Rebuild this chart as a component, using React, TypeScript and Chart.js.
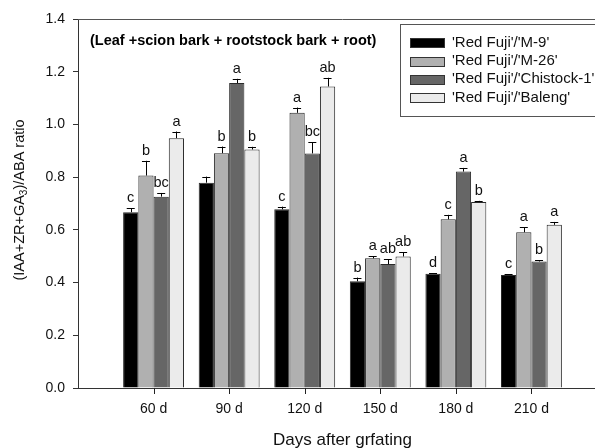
import React, { useEffect, useRef } from "react";
import { Chart, registerables } from "chart.js";

Chart.register(...registerables);

const categories = ["60 d", "90 d", "120 d", "150 d", "180 d", "210 d"];
const seriesNames = ["'Red Fuji'/'M-9'", "'Red Fuji'/'M-26'", "'Red Fuji'/'Chistock-1'", "'Red Fuji'/'Baleng'"];
const m9 = [0.667, 0.779, 0.678, 0.405, 0.433, 0.429];
const m26 = [0.806, 0.891, 1.044, 0.492, 0.640, 0.591];
const chistock = [0.726, 1.157, 0.890, 0.470, 0.821, 0.480];
const baleng = [0.948, 0.905, 1.144, 0.499, 0.706, 0.619];
const m9Err = [0.015, 0.023, 0.010, 0.014, 0.003, 0.002];
const m26Err = [0.056, 0.025, 0.020, 0.008, 0.017, 0.019];
const chistockErr = [0.014, 0.016, 0.043, 0.019, 0.014, 0.004];
const balengErr = [0.025, 0.010, 0.033, 0.017, 0.004, 0.011];
const m9Letters = ["c", "", "c", "b", "d", "c"];
const m26Letters = ["b", "b", "a", "a", "c", "a"];
const chistockLetters = ["bc", "a", "bc", "ab", "a", "b"];
const balengLetters = ["a", "b", "ab", "ab", "b", "a"];
const yTicks = [0, 0.2, 0.4, 0.6, 0.8, 1.0, 1.2, 1.4];

const fills = ["#000000", "#b0b0b0", "#666666", "#ebebeb"];
const FONT = "'Liberation Sans', Arial, sans-serif";

const values = [m9, m26, chistock, baleng];
const errors = [m9Err, m26Err, chistockErr, balengErr];
const letters = [m9Letters, m26Letters, chistockLetters, balengLetters];

const pad = (arr: any[]) => [null, ...arr, null];

export default function App() {
  const ref = useRef<HTMLCanvasElement | null>(null);

  useEffect(() => {
    if (!ref.current) return;
    const overlay = {
      id: "overlay",
      afterDraw(chart: any) {
        const ctx = chart.ctx;
        const area = chart.chartArea;
        const y = chart.scales.y;
        const xs = chart.scales.x;
        ctx.save();
        // top frame
        ctx.strokeStyle = "#555";
        ctx.lineWidth = 1;
        ctx.beginPath();
        ctx.moveTo(area.left, area.top + 0.5);
        ctx.lineTo(area.right, area.top + 0.5);
        ctx.stroke();
        // x tick marks at category centres
        ctx.fillStyle = "#222";
        categories.forEach((_, i) => {
          const px = Math.round(xs.getPixelForValue(i + 1));
          ctx.fillRect(px, area.bottom, 1, 6);
        });
        // error bars & letters
        values.forEach((vals, di) => {
          const meta = chart.getDatasetMeta(di);
          vals.forEach((v, j) => {
            const bar: any = meta.data[j + 1];
            if (!bar) return;
            const x = bar.x;
            const yb = y.getPixelForValue(v);
            const yt = y.getPixelForValue(v + errors[di][j]);
            ctx.strokeStyle = "#000";
            ctx.lineWidth = 1;
            ctx.beginPath();
            ctx.moveTo(Math.round(x) + 0.5, yb);
            ctx.lineTo(Math.round(x) + 0.5, yt);
            ctx.moveTo(x - 4, Math.round(yt) + 0.5);
            ctx.lineTo(x + 4, Math.round(yt) + 0.5);
            ctx.stroke();
            const t = letters[di][j];
            if (t) {
              ctx.fillStyle = "#111";
              ctx.font = `14.5px ${FONT}`;
              ctx.textAlign = "center";
              ctx.textBaseline = "alphabetic";
              ctx.fillText(t, x, yt - 6);
            }
          });
        });
        // panel title
        ctx.fillStyle = "#000";
        ctx.font = `bold 14.5px ${FONT}`;
        ctx.textAlign = "left";
        ctx.textBaseline = "middle";
        ctx.fillText("(Leaf +scion bark + rootstock bark + root)", 90, 41);
        // legend
        ctx.strokeStyle = "#555";
        ctx.lineWidth = 1;
        ctx.fillStyle = "#fff";
        ctx.fillRect(400.5, 24.5, 300, 92);
        ctx.strokeRect(400.5, 24.5, 300, 92);
        seriesNames.forEach((name, i) => {
          const cy = 42.7 + i * 18.3;
          ctx.fillStyle = fills[i];
          ctx.fillRect(410.5, Math.round(cy - 4.5) + 0.5, 34, 9);
          ctx.strokeStyle = "#333";
          ctx.strokeRect(410.5, Math.round(cy - 4.5) + 0.5, 34, 9);
          ctx.fillStyle = "#111";
          ctx.font = `15px ${FONT}`;
          ctx.textAlign = "left";
          ctx.textBaseline = "middle";
          ctx.fillText(name, 452, cy);
        });
        // x title
        ctx.fillStyle = "#111";
        ctx.font = `17px ${FONT}`;
        ctx.textAlign = "center";
        ctx.textBaseline = "middle";
        ctx.fillText("Days after grfating", (area.left + area.right) / 2, 440);
        // y title with subscript
        ctx.translate(20, 200);
        ctx.rotate(-Math.PI / 2);
        const big = `14.5px ${FONT}`;
        const small = `10px ${FONT}`;
        const parts: [string, boolean][] = [["(IAA+ZR+GA", false], ["3", true], [")/ABA ratio", false]];
        let total = 0;
        parts.forEach(([s, sub]) => {
          ctx.font = sub ? small : big;
          total += ctx.measureText(s).width;
        });
        let cx = -total / 2;
        ctx.textAlign = "left";
        ctx.textBaseline = "middle";
        parts.forEach(([s, sub]) => {
          ctx.font = sub ? small : big;
          ctx.fillText(s, cx, sub ? 4 : 0);
          cx += ctx.measureText(s).width;
        });
        ctx.restore();
      },
    };

    const chart = new Chart(ref.current, {
      type: "bar",
      data: {
        labels: ["", ...categories, ""],
        datasets: values.map((vals, i) => ({
          label: seriesNames[i],
          data: pad(vals),
          backgroundColor: fills[i],
          borderColor: "#2a2a2a",
          borderWidth: 1,
          barPercentage: 1,
          categoryPercentage: 0.806,
        })),
      },
      options: {
        responsive: false,
        animation: false,
        devicePixelRatio: 1,
        layout: { padding: { left: 0, top: 19, right: 12, bottom: 0 } },
        plugins: { legend: { display: false }, tooltip: { enabled: false }, title: { display: false } },
        scales: {
          x: {
            type: "category",
            offset: false,
            afterFit: (s: any) => { s.height = 60; },
            grid: {
              offset: false,
              drawOnChartArea: false,
              drawTicks: false,
              color: "rgba(0,0,0,0)",
            },
            border: { display: true, color: "#333", width: 1 },
            ticks: {
              color: "#111",
              font: { family: FONT, size: 14 },
              padding: 13,
              maxRotation: 0,
              autoSkip: false,
            },
          },
          y: {
            min: 0,
            max: 1.4,
            afterFit: (s: any) => { s.width = 78; },
            afterBuildTicks: (s: any) => { s.ticks = yTicks.map((v) => ({ value: v })); },
            grid: { drawOnChartArea: false, drawTicks: true, tickLength: 5, color: "#333" },
            border: { display: true, color: "#333", width: 1 },
            ticks: {
              color: "#111",
              font: { family: FONT, size: 14 },
              padding: 8,
              callback: (v: any) => Number(v).toFixed(1),
            },
          },
        },
      },
      plugins: [overlay],
    });
    return () => chart.destroy();
  }, []);

  return (
    <div style={{ position: "fixed", left: 0, top: 0, width: 595, height: 448, overflow: "hidden", background: "#fff" }}>
      <canvas ref={ref} width={620} height={448} style={{ display: "block", width: 620, height: 448 }} />
    </div>
  );
}
